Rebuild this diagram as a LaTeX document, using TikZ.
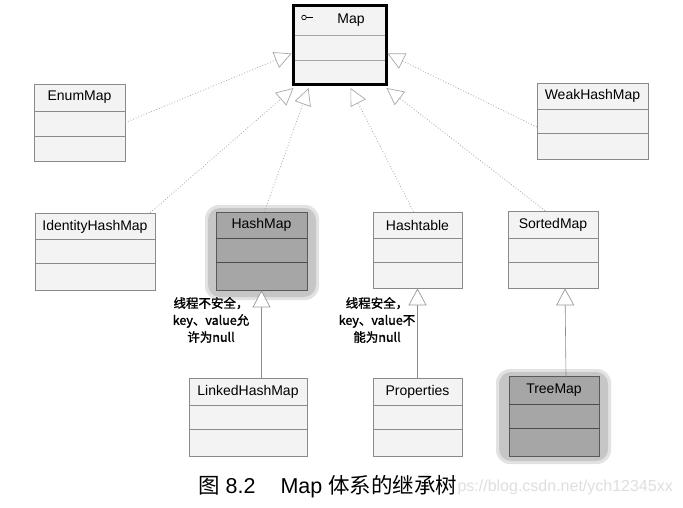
\documentclass[tikz,border=0pt]{standalone}
\usepackage{fontspec}
\setmainfont{Liberation Sans}
\newfontfamily\cjk{Noto Sans CJK SC}
\newfontfamily\cjkb[FakeBold=1.6]{Noto Sans CJK SC}
\usetikzlibrary{arrows.meta,calc}
\definecolor{boxline}{HTML}{8A8A8A}
\definecolor{boxfill}{HTML}{F3F3F3}
\definecolor{hotfill}{HTML}{A6A6A6}
\definecolor{halo}{HTML}{C6C6C6}
\definecolor{dotc}{HTML}{A8A8A8}
\tikzset{
  umlbox/.style={draw=boxline, fill=boxfill, line width=0.7pt, inner sep=0pt, rectangle},
  hotbox/.style={draw=gray!70!black, fill=hotfill, line width=0.7pt, inner sep=0pt, rectangle},
  ttl/.style={font=\fontsize{14}{16}\selectfont, text=black, inner sep=0pt},
  realize/.style={draw=dotc, dotted, line width=0.8pt,
    -{Triangle[length=17pt,width=17pt,fill=white,line width=0.7pt,color=dotc]}},
  extend/.style={draw=gray!90, line width=0.6pt,
    -{Triangle[length=17pt,width=18pt,fill=white,line width=0.7pt,color=gray!80]}},
  note/.style={font=\cjkb\fontsize{12.5}{17}\selectfont, align=center, inner sep=0pt},
}
\begin{document}
\begin{tikzpicture}[x=1pt,y=-1pt]
\useasboundingbox[fill=white] (0,0) rectangle (683,508);

% ---- halos for highlighted classes
\fill[halo, opacity=0.5, rounded corners=14pt] (205,205) rectangle (319,300);
\fill[halo, rounded corners=12pt] (208,208) rectangle (316,297);
\fill[halo, opacity=0.5, rounded corners=14pt] (496,369) rectangle (611,464);
\fill[halo, rounded corners=12pt] (499,372) rectangle (608,461);

% ---- Map (interface)
\node[draw=black, fill=boxfill, line width=3pt, inner sep=0pt, minimum width=93pt, minimum height=79pt] (map) at (339.5,45.5) {};
\draw[gray!70, line width=0.6pt] (294.5,35) -- (384.5,35) (294.5,60) -- (384.5,60);
\draw[line width=0.7pt] (304,17.5) circle (2.3pt);
\draw[line width=0.7pt] (306.3,17.5) -- (313,17.5);
\node[ttl] (mapt) at (351,20.5) {Map};

% ---- EnumMap
\node[umlbox, minimum width=91pt, minimum height=77pt] (enum) at (79.5,122.5) {};
\draw[boxline, line width=0.6pt] (34,111) -- (125,111) (34,136) -- (125,136);
\node[ttl] (enumt) at (79.5,97.5) {EnumMap};

% ---- WeakHashMap
\node[umlbox, minimum width=111pt, minimum height=76pt] (whm) at (592.5,121) {};
\draw[boxline, line width=0.6pt] (537,109) -- (648,109) (537,133.5) -- (648,133.5);
\node[ttl] (whmt) at (592.5,96) {WeakHashMap};

% ---- IdentityHashMap
\node[umlbox, minimum width=120pt, minimum height=77pt] (ihm) at (95,251.5) {};
\draw[boxline, line width=0.6pt] (35,239.5) -- (155,239.5) (35,263.5) -- (155,263.5);
\node[ttl] (ihmt) at (95,226.5) {IdentityHashMap};

% ---- HashMap
\node[hotbox, minimum width=91pt, minimum height=78pt] (hm) at (261.5,251) {};
\draw[gray!60!black, line width=0.6pt] (216,238.5) -- (307,238.5) (216,262.5) -- (307,262.5);
\node[ttl] (hmt) at (261.5,225) {HashMap};

% ---- Hashtable
\node[umlbox, minimum width=89pt, minimum height=76pt] (ht) at (417.5,250) {};
\draw[boxline, line width=0.6pt] (373,238) -- (462,238) (373,262) -- (462,262);
\node[ttl] (htt) at (417.5,225) {Hashtable};

% ---- SortedMap
\node[umlbox, minimum width=90pt, minimum height=77pt] (sm) at (553,249.5) {};
\draw[boxline, line width=0.6pt] (508,238) -- (598,238) (508,262) -- (598,262);
\node[ttl] (smt) at (553,224.5) {SortedMap};

% ---- LinkedHashMap
\node[umlbox, minimum width=118pt, minimum height=78pt] (lhm) at (248,417) {};
\draw[boxline, line width=0.6pt] (189,405) -- (307,405) (189,429.5) -- (307,429.5);
\node[ttl] (lhmt) at (248,391.5) {LinkedHashMap};

% ---- Properties
\node[umlbox, minimum width=89pt, minimum height=78pt] (prop) at (417.5,417) {};
\draw[boxline, line width=0.6pt] (373,405) -- (462,405) (373,429.5) -- (462,429.5);
\node[ttl] (propt) at (417.5,391.5) {Properties};

% ---- TreeMap
\node[hotbox, minimum width=90pt, minimum height=80pt] (tm) at (554,416.5) {};
\draw[gray!60!black, line width=0.6pt] (509,404) -- (599,404) (509,428.5) -- (599,428.5);
\node[ttl] (tmt) at (554,390) {TreeMap};

% ---- realization (dotted) connectors to Map
\draw[realize] (enum.east) -- ([yshift=-8pt]map.west);
\draw[realize] ([yshift=-6pt]whm.west) -- ([yshift=-8pt]map.east);
\draw[realize] ([xshift=-5pt]ihm.north east) -- ([xshift=2pt,yshift=-1.5pt]map.south west);
\draw[realize] ([xshift=3pt]hm.north) -- ([xshift=17pt,yshift=-1.5pt]map.south west);
\draw[realize] ([xshift=-4pt]ht.north) -- ([xshift=-37pt,yshift=-1.5pt]map.south east);
\draw[realize] ([xshift=-8pt]sm.north) -- ([xshift=-1pt,yshift=-1.5pt]map.south east);

% ---- inheritance (solid) connectors
\draw[extend] (hm.south |- lhm.north) -- (hm.south);
\draw[extend] (prop.north) -- (ht.south);
\draw[extend] ([xshift=12pt]tm.north) -- ([xshift=12pt]sm.south);

% ---- notes
\node[note] (n1) at (211,320) {线程不安全，\\key、value允\\许为null};
\node[note] (n2) at (377,320) {线程安全，\\key、value不\\能为null};

% ---- watermark and caption
\node[anchor=east, text=gray!25, font=\fontsize{16}{18}\selectfont, inner sep=0pt] (wm) at (673,487) {https://blog.csdn.net/ych12345xx};
\node[anchor=west, fill=white, inner sep=1pt, font=\fontsize{21.5}{24}\selectfont] (cap) at (197,487) {{\cjk 图} 8.2\hspace{25pt}Map {\cjk 体系的继承树}};
\end{tikzpicture}
\end{document}
